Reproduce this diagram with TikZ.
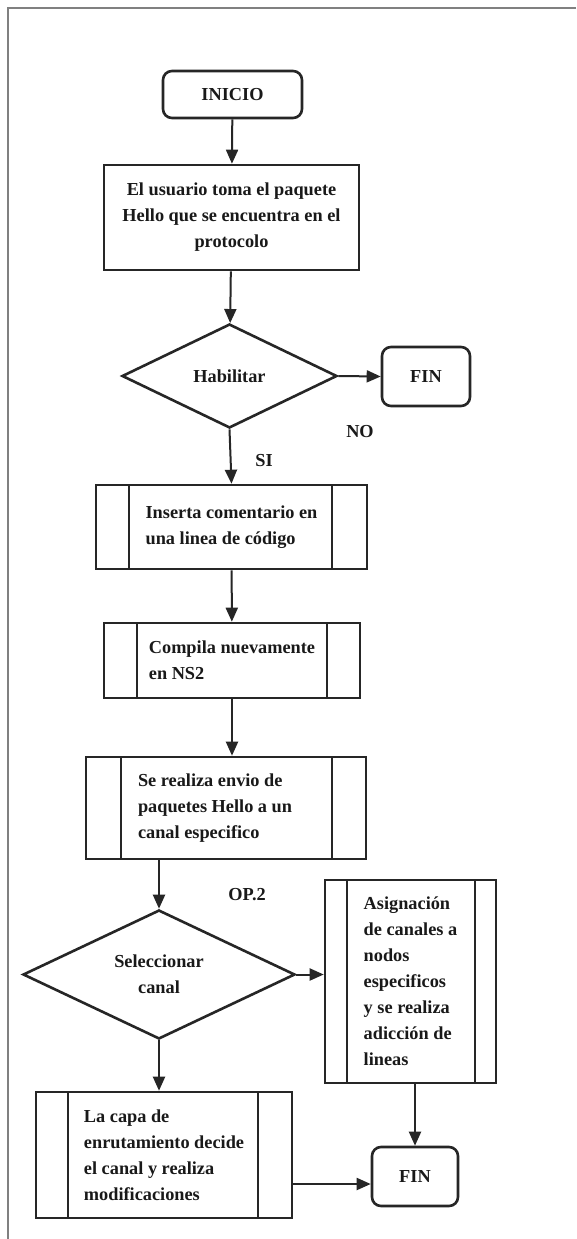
\documentclass[tikz,border=0pt]{standalone}
\usepackage{fontspec}
\setmainfont{Liberation Serif}
\usetikzlibrary{shapes.geometric,arrows.meta}
\begin{document}
\begin{tikzpicture}[x=1pt,y=-1pt,
  every node/.style={font=\fontsize{18.3}{26}\selectfont\bfseries, text=black!90},
  base/.style={draw=black!85, line width=2.6pt, inner sep=0pt},
  term/.style={base, rectangle, rounded corners=9pt},
  proc/.style={base, rectangle},
  sub/.style 2 args={base, rectangle, align=flush left, path picture={
     \draw[line width=2.2pt, black!85] ([xshift=#1]path picture bounding box.north west) -- ([xshift=#1]path picture bounding box.south west);
     \draw[line width=2.2pt, black!85] ([xshift=-#2]path picture bounding box.north east) -- ([xshift=-#2]path picture bounding box.south east);}},
  dec/.style={base, diamond, aspect=2, align=center},
  arr/.style={draw=black!85, line width=2pt, -{Triangle[length=14pt,width=12pt]}},
  lbl/.style={inner sep=0pt}
]
\useasboundingbox (0,0) rectangle (576,1239);
\fill[white] (0,0) rectangle (576,1239);
\draw[black!50, line width=2pt] (576,8) -- (8,8) -- (8,1239);

\node[term, minimum width=139pt, minimum height=47pt] (inicio) at (232.5,94.5) {INICIO};
\node[proc, minimum width=255pt, minimum height=105pt, align=center] (b1) at (231.5,217.5)
  {El usuario toma el paquete\\Hello que se encuentra en el\\protocolo};
\node[dec, minimum width=215pt, minimum height=104pt] (d1) at (229.5,376) {Habilitar};
\node[term, minimum width=88pt, minimum height=59pt] (fin1) at (426,376.5) {FIN};
\node[lbl] (no) at (360,432) {NO};
\node[lbl] (si) at (264,461) {SI};
\node[sub={33pt}{35pt}, minimum width=271pt, minimum height=84pt] (b2) at (231.5,527)
  {Inserta comentario en\\una linea de código};
\node[sub={33pt}{33pt}, minimum width=256pt, minimum height=75pt] (b3) at (232,660.5)
  {Compila nuevamente\\en NS2};
\node[sub={35pt}{34pt}, minimum width=280pt, minimum height=102pt, text width=176pt] (b4) at (226,808)
  {Se realiza envio de\\paquetes Hello a un\\canal especifico};
\node[lbl] (op) at (247,895) {OP.2};
\node[dec, minimum width=272pt, minimum height=129pt] (d2) at (159,974.5) {Seleccionar\\canal};
\node[sub={22pt}{21pt}, minimum width=171pt, minimum height=203pt] (asig) at (410.5,981.5)
  {Asignación\\de canales a\\nodos\\especificos\\y se realiza\\adicción de\\lineas};
\node[sub={32pt}{34pt}, minimum width=256pt, minimum height=126pt] (capa) at (164,1155)
  {La capa de\\enrutamiento decide\\el canal y realiza\\modificaciones};
\node[term, minimum width=86pt, minimum height=59pt] (fin2) at (415,1176.5) {FIN};

\draw[arr] (inicio) -- (b1);
\draw[arr] (b1) -- (d1);
\draw[arr] (d1.east) -- (fin1.west);
\draw[arr] (d1.south) -- (b2.north);
\draw[arr] (b2) -- (b3);
\draw[arr] (b3.south) -- (b3.south |- b4.north);
\draw[arr] (b4.south -| d2.north) -- (d2.north);
\draw[arr] (d2.east) -- (d2.east -| asig.west);
\draw[arr] (d2.south) -- (d2.south |- capa.north);
\draw[arr] (asig.south -| fin2.north) -- (fin2.north);
\draw[arr] ([yshift=-7.5pt]fin2.west -| capa.east) -- ([yshift=-7.5pt]fin2.west);
\end{tikzpicture}
\end{document}
